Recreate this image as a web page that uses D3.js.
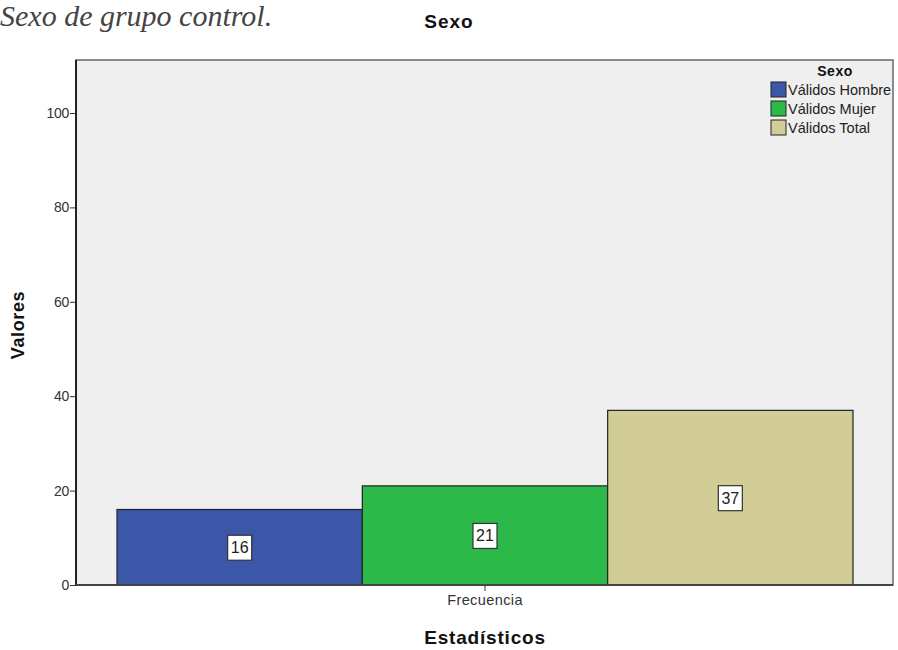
<!DOCTYPE html>
<html>
<head>
<meta charset="utf-8">
<script src="https://cdn.jsdelivr.net/npm/d3@7"></script>
<style>
body { margin:0; background:#fff; }
svg text { font-family: "Liberation Sans", Arial, sans-serif; }
</style>
</head>
<body>
<div id="chart"></div>
<script>
var categories = ['Válidos Hombre','Válidos Mujer','Válidos Total']
var values = [16, 21, 37]
var colors = ['#3c56a8','#2db84a','#d2cd96']
var yTicks = [0,20,40,60,80,100]
var xLabel = 'Frecuencia'

var W = 898, H = 650
var svg = d3.select('#chart').append('svg').attr('width',W).attr('height',H)

var fx0 = 76, fx1 = 893, fy0 = 60, fy1 = 585

var y = d3.scaleLinear().domain([0,100]).range([585,113])
var x = d3.scaleBand().domain(categories).range([117,853]).padding(0)

// caption + title
svg.append('text').attr('x',0).attr('y',26).text('Sexo de grupo control.')
	.style('font-family','"Liberation Serif","DejaVu Serif",serif').style('font-style','italic')
	.style('font-size','30px').attr('fill','#444')
svg.append('text').attr('x',449).attr('y',28).attr('text-anchor','middle').text('Sexo')
	.style('font-size','19px').style('font-weight','bold').style('letter-spacing','1px').attr('fill','#111')

// frame
svg.append('rect').attr('x',fx0).attr('y',fy0).attr('width',fx1-fx0).attr('height',fy1-fy0)
	.attr('fill','#efefef').attr('stroke','#6a6a6a').attr('stroke-width',1.5)

// bars
var bars = svg.append('g')
categories.forEach(function(c,i){
	bars.append('rect').attr('x',x(c)).attr('y',y(values[i]))
		.attr('width',x.bandwidth()).attr('height',y(0)-y(values[i]))
		.attr('fill',colors[i]).attr('stroke','#222').attr('stroke-width',1.2)
})

// value labels
categories.forEach(function(c,i){
	var cx = x(c)+x.bandwidth()/2, cy = (y(values[i])+y(0))/2
	svg.append('rect').attr('x',cx-12).attr('y',cy-12).attr('width',24).attr('height',25)
		.attr('fill','#fff').attr('stroke','#333').attr('stroke-width',1.2)
	svg.append('text').attr('x',cx).attr('y',cy+6).attr('text-anchor','middle')
		.text(values[i]).style('font-size','16px').attr('fill','#222')
})

// y axis
var yAxis = svg.append('g').attr('transform','translate('+fx0+',0)')
	.call(d3.axisLeft(y).tickValues(yTicks).tickSize(6).tickPadding(1))
yAxis.select('.domain').remove()
yAxis.selectAll('line').attr('stroke','#333')
yAxis.selectAll('text').style('font-size','14px').style('letter-spacing','-0.3px').attr('fill','#333')
svg.append('line').attr('x1',fx0).attr('x2',fx0).attr('y1',fy0).attr('y2',fy1+1)
	.attr('stroke','#222').attr('stroke-width',2)
svg.append('line').attr('x1',fx0).attr('x2',fx1).attr('y1',fy1).attr('y2',fy1)
	.attr('stroke','#444').attr('stroke-width',1.8)

// x axis tick
var xc = d3.scaleBand().domain([xLabel]).range([117,853])
var xAxis = svg.append('g').attr('transform','translate(0,'+fy1+')')
	.call(d3.axisBottom(xc).tickSize(6).tickPadding(4))
xAxis.select('.domain').remove()
xAxis.selectAll('line').attr('stroke','#333')
xAxis.selectAll('text').style('font-size','14.5px').style('letter-spacing','0.4px').attr('fill','#333')

// axis titles
svg.append('text').attr('x',485).attr('y',644).attr('text-anchor','middle').text('Estadísticos')
	.style('font-size','19px').style('font-weight','bold').style('letter-spacing','0.8px').attr('fill','#111')
svg.append('text').attr('transform','translate(24,325) rotate(-90)').attr('text-anchor','middle')
	.text('Valores').style('font-size','18px').style('font-weight','bold').style('letter-spacing','0.6px').attr('fill','#111')

// legend
var lg = svg.append('g')
lg.append('text').attr('x',835).attr('y',76).attr('text-anchor','middle').text('Sexo')
	.style('font-size','14px').style('font-weight','bold').style('letter-spacing','0.5px').attr('fill','#111')
categories.forEach(function(c,i){
	var ly = 82 + i*19
	lg.append('rect').attr('x',771).attr('y',ly).attr('width',15).attr('height',15)
		.attr('fill',colors[i]).attr('stroke','#222').attr('stroke-width',1)
	lg.append('text').attr('x',788).attr('y',ly+13).text(c)
		.style('font-size','14.5px').attr('fill','#222')
})
</script>
</body>
</html>
